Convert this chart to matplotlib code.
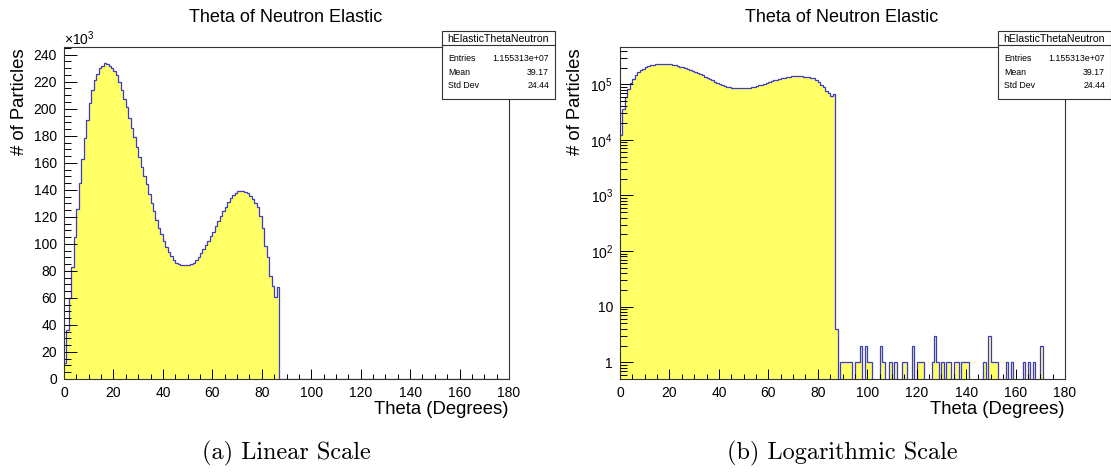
import numpy as np
import matplotlib.pyplot as plt
from matplotlib.ticker import MultipleLocator, LogLocator, FuncFormatter, NullFormatter
from matplotlib.patches import Rectangle
from matplotlib.lines import Line2D

plt.rcParams['font.family'] = ['Liberation Sans', 'DejaVu Sans']
plt.rcParams['mathtext.fontset'] = 'custom'
plt.rcParams['mathtext.rm'] = 'Liberation Sans'

W, H = 1111, 473

# 1 degree bins, 0..180
edges = np.arange(0, 181, 1)

# bins 0..86, counts in thousands
main_k = [12, 36, 60, 83, 105, 126, 145, 163, 178, 192,
          204, 214, 221, 226, 230, 232, 234, 233, 232, 230,
          228, 225, 220, 214, 207, 201, 193, 186, 179, 172,
          164, 157, 150, 144, 137, 130, 124, 118, 112, 107,
          102, 98, 94, 91, 88, 86, 85, 84, 84, 84,
          84, 85, 86, 88, 90, 93, 96, 99, 102, 105.5,
          109, 113, 117, 120.5, 124, 127.5, 131, 134, 136.5, 138,
          139, 139, 139, 138.6, 137.3, 135.4, 133, 130.5, 127, 120.6,
          112, 98.5, 90, 76, 69, 60.5, 68]

# sparse tail above 87 deg
tail_bins = [87, 89, 90, 91, 92, 93, 95, 96, 97, 99, 100, 101, 105, 106, 109, 111,
             114, 115, 118, 120, 121, 122, 126, 127, 128, 130, 132, 133, 135, 136,
             138, 139, 140, 147, 149, 150, 151, 152, 156, 158, 163, 165, 167, 170]
tail_counts = [4, 1, 1, 1, 1, 1, 1, 1, 2, 2, 1, 1, 2, 1, 1, 1,
               1, 1, 2, 1, 1, 1, 1, 3, 1, 1, 1, 1, 1, 1,
               1, 1, 1, 1, 3, 1, 1, 1, 1, 1, 1, 1, 1, 2]

counts = np.zeros(180)
counts[:len(main_k)] = np.round(np.array(main_k) * 1000)
counts[tail_bins] = tail_counts

stats_name = "hElasticThetaNeutron"
stats_rows = [("Entries", "1.155313e+07"), ("Mean", "39.17"), ("Std Dev", "24.44")]
title = "Theta of Neutron Elastic"
captions = ["(a) Linear Scale", "(b) Logarithmic Scale"]

fill_c = '#ffff66'
line_c = '#3a3acc'


def fx(x):
    return x / W


def fy(y):
    return 1 - y / H


fig = plt.figure(figsize=(W / 100, H / 100), dpi=100)


def panel(off, log):
    ax = fig.add_axes([fx(64 + off), fy(379), 445 / W, 332 / H])
    if log:
        vals = np.where(counts > 0, counts, 1e-3)
        base = 1e-3
    else:
        vals = counts
        base = 0
    ax.stairs(vals, edges, fill=True, color=fill_c, baseline=base, lw=0)
    ax.stairs(vals, edges, color=line_c, lw=0.9, baseline=None)
    ax.set_xlim(0, 180)
    ax.xaxis.set_major_locator(MultipleLocator(20))
    ax.xaxis.set_minor_locator(MultipleLocator(5))
    ax.tick_params(axis='x', which='major', direction='in', length=7.2, width=0.7,
                   labelsize=10, pad=5, top=False)
    ax.tick_params(axis='x', which='minor', direction='in', length=3.6, width=0.7, top=False)
    ax.tick_params(axis='y', which='major', direction='in', length=9.4, width=0.7,
                   labelsize=10, pad=5, right=False)
    ax.tick_params(axis='y', which='minor', direction='in', length=4.7, width=0.7, right=False)
    if log:
        ax.set_yscale('log')
        ax.set_ylim(0.5, 2 * counts.max())
        ax.yaxis.set_major_locator(LogLocator(base=10, numticks=20))
        ax.yaxis.set_minor_locator(LogLocator(base=10, subs=np.arange(2, 10), numticks=20))
        ax.yaxis.set_minor_formatter(NullFormatter())

        def logfmt(v, p):
            e = int(round(np.log10(v)))
            if e == 0:
                return '1'
            if e == 1:
                return '10'
            return r'$\mathregular{10^{%d}}$' % e
        ax.yaxis.set_major_formatter(FuncFormatter(logfmt))
    else:
        ax.set_ylim(0, 1.05 * counts.max())
        ax.yaxis.set_major_locator(MultipleLocator(20000))
        ax.yaxis.set_minor_locator(MultipleLocator(5000))
        ax.yaxis.set_major_formatter(FuncFormatter(lambda v, p: '%d' % round(v / 1000)))
        fig.text(fx(64 + off), fy(39), r'$\mathregular{\times 10^{3}}$', fontsize=10,
                 ha='left', va='center')
    for s in ax.spines.values():
        s.set_linewidth(0.8)
        s.set_color('#333333')

    fig.text(fx(286 + off), fy(18), title, fontsize=13, ha='center', va='center')
    fig.text(fx(20 + off), fy(48), "# of Particles", fontsize=13.3, rotation=90,
             ha='center', va='top')
    fig.text(fx(509 + off), fy(409), "Theta (Degrees)", fontsize=13.3, ha='right',
             va='center')
    fig.text(fx(286 + off), fy(453), captions[1 if log else 0], fontsize=17.5,
             family='cmr10', ha='center', va='center')

    # stats box
    bx0, bx1, by0, by1 = 442 + off, 555 + off, 31, 99
    fig.add_artist(Rectangle((fx(bx0), fy(by1)), (bx1 - bx0) / W, (by1 - by0) / H,
                             transform=fig.transFigure, facecolor='white',
                             edgecolor='#333333', lw=0.8, zorder=5))
    fig.add_artist(Line2D([fx(bx0), fx(bx1)], [fy(45), fy(45)], transform=fig.transFigure,
                          color='#333333', lw=0.8, zorder=6))
    fig.text(fx((bx0 + bx1) / 2), fy(38.5), stats_name, fontsize=7.6, ha='center',
             va='center', zorder=7)
    for i, (k, v) in enumerate(stats_rows):
        yy = 58.5 + i * 13.7
        fig.text(fx(bx0 + 6), fy(yy), k, fontsize=6.3, ha='left', va='center', zorder=7)
        fig.text(fx(bx1 - 6), fy(yy), v, fontsize=6.3, ha='right', va='center', zorder=7)
    return ax


panel(0, False)
panel(556, True)

fig.savefig('out.png', dpi=100)
